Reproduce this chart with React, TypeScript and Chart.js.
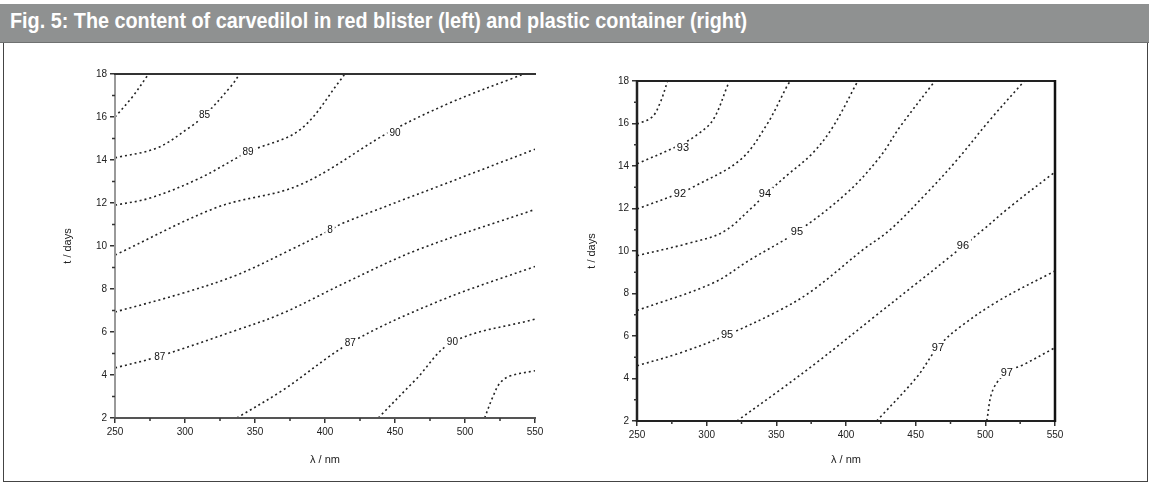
import React, { useEffect, useRef } from 'react';
import { Chart, registerables } from 'chart.js';

Chart.register(...registerables);

const TITLE = 'Fig. 5: The content of carvedilol in red blister (left) and plastic container (right)';
const X_TITLE = 'λ / nm';
const Y_TITLE = 't / days';
const X_TICKS = [250, 300, 350, 400, 450, 500, 550];
const Y_TICKS = [2, 4, 6, 8, 10, 12, 14, 16, 18];

type Pt = [number, number];
type Lbl = { text: string; x: number; y: number };

// Left panel (red blister) contour lines, [λ, t]
const L1: Pt[] = [[250, 16.0], [262, 16.9], [274, 18]];
const L2: Pt[] = [[250, 14.1], [280, 14.56], [303.6, 15.53], [314.3, 16.09], [333.6, 17.49], [339, 18]];
const L3: Pt[] = [[250, 11.9], [275, 12.23], [310.7, 13.16], [345, 14.37], [382, 15.4], [412, 17.8], [414, 18]];
const L4: Pt[] = [[250, 9.58], [323, 11.8], [382, 12.84], [446, 15.3], [489, 16.65], [534, 17.8], [542, 18]];
const L5: Pt[] = [[250, 6.93], [298.6, 7.81], [337, 8.65], [375, 9.81], [403.6, 10.74], [413, 11.07], [480, 12.75], [550, 14.5]];
const L6: Pt[] = [[250, 4.33], [280, 4.84], [337, 6.09], [370, 6.88], [415.7, 8.33], [465.7, 9.81], [550, 11.7]];
const L7: Pt[] = [[337, 2], [370, 3.3], [418, 5.49], [480, 7.4], [550, 9.05]];
const L8: Pt[] = [[438, 2], [465, 3.8], [491, 5.53], [550, 6.6]];
const L9: Pt[] = [[514, 2], [520, 3.0], [525, 3.63], [532, 3.95], [550, 4.2]];
const LEFT_LINES = [L1, L2, L3, L4, L5, L6, L7, L8, L9];
const LEFT_LABELS: Lbl[] = [
  { text: '85', x: 314, y: 16.1 },
  { text: '89', x: 345, y: 14.4 },
  { text: '90', x: 450, y: 15.26 },
  { text: '8', x: 403.6, y: 10.74 },
  { text: '87', x: 282, y: 4.84 },
  { text: '87', x: 418, y: 5.49 },
  { text: '90', x: 491, y: 5.53 },
];

// Right panel (plastic container) contour lines, [λ, t]
const R1: Pt[] = [[250, 15.97], [260.8, 16.3], [266.5, 16.96], [272, 18]];
const R2: Pt[] = [[250, 14.1], [280.8, 14.99], [293, 15.46], [304.5, 16.16], [314.6, 17.72], [316, 18]];
const R3: Pt[] = [[250, 11.98], [281, 12.73], [290, 13.0], [324, 14.28], [343, 15.93], [358, 17.8], [360, 18]];
const R4: Pt[] = [[250, 9.78], [288, 10.38], [311.7, 10.89], [333, 12.07], [341.8, 12.64], [358, 13.58], [376, 14.6], [390.6, 15.84], [408.5, 18]];
const R5: Pt[] = [[250, 7.2], [304.5, 8.49], [331, 9.58], [364.8, 10.9], [400.6, 12.73], [424.3, 14.42], [438.7, 15.84], [463.8, 18]];
const R6: Pt[] = [[250, 4.6], [280.8, 5.2], [314.6, 6.05], [352.6, 7.22], [376.3, 8.16], [412, 10.05], [431.5, 10.99], [458, 12.73], [479.6, 14.28], [503.2, 16.16], [528, 18]];
const R7: Pt[] = [[321.7, 2], [352.6, 3.46], [381.3, 4.87], [419.3, 6.85], [450.9, 8.49], [474.5, 9.72], [498.2, 10.99], [517.6, 12.07], [550, 13.72]];
const R8: Pt[] = [[422, 2], [450.9, 4.07], [466, 5.48], [481.7, 6.42], [510.4, 7.69], [550, 9.06]];
const R9: Pt[] = [[501, 2], [505.4, 3.46], [515.4, 4.3], [527, 4.64], [550, 5.45]];
const RIGHT_LINES = [R1, R2, R3, R4, R5, R6, R7, R8, R9];
const RIGHT_LABELS: Lbl[] = [
  { text: '93', x: 283, y: 14.85 },
  { text: '92', x: 280.8, y: 12.7 },
  { text: '94', x: 341.8, y: 12.7 },
  { text: '95', x: 364.8, y: 10.9 },
  { text: '95', x: 314.6, y: 6.05 },
  { text: '96', x: 483.9, y: 10.28 },
  { text: '97', x: 466, y: 5.48 },
  { text: '97', x: 515.4, y: 4.3 },
];

const FONT = '"Liberation Sans", Arial, sans-serif';

type Edge = { color: string; width: number } | null;
type PanelCfg = {
  lines: Pt[][];
  labels: Lbl[];
  labelSize: number;
  dash: number[];
  yAxisWidth: number;
  xAxisHeight: number;
  padTop: number;
  padRight: number;
  yTitlePad: number;
  frame: { top: Edge; right: Edge; bottom: Edge; left: Edge };
};

const decorPlugin = {
  id: 'decor',
  afterDatasetsDraw(chart: any, _args: any, o: any) {
    const { ctx, chartArea: a, scales } = chart;
    const xs = scales.x;
    const ys = scales.y;
    ctx.save();
    // contour labels
    ctx.font = `${o.labelSize}px ${FONT}`;
    ctx.textAlign = 'center';
    ctx.textBaseline = 'middle';
    for (const l of o.labels as Lbl[]) {
      const px = xs.getPixelForValue(l.x);
      const py = ys.getPixelForValue(l.y);
      const w = ctx.measureText(l.text).width;
      ctx.fillStyle = '#ffffff';
      ctx.fillRect(px - w / 2 - 2, py - 6, w + 4, 12);
      ctx.fillStyle = '#111111';
      ctx.fillText(l.text, px, py + 0.5);
    }
    // frame
    const f = o.frame;
    const seg = (e: Edge, x1: number, y1: number, x2: number, y2: number) => {
      if (!e) return;
      ctx.strokeStyle = e.color;
      ctx.lineWidth = e.width;
      ctx.setLineDash([]);
      ctx.beginPath();
      ctx.moveTo(x1, y1);
      ctx.lineTo(x2, y2);
      ctx.stroke();
    };
    seg(f.left, a.left, a.top - 1, a.left, a.bottom + 1);
    seg(f.bottom, a.left - 1, a.bottom, a.right + 1, a.bottom);
    seg(f.top, a.left - 1, a.top, a.right + 1, a.top);
    seg(f.right, a.right, a.top - 1, a.right, a.bottom + 1);
    // minor ticks
    ctx.strokeStyle = '#333333';
    ctx.lineWidth = 1.5;
    for (let i = 0; i < X_TICKS.length - 1; i++) {
      const px = xs.getPixelForValue((X_TICKS[i] + X_TICKS[i + 1]) / 2);
      ctx.beginPath();
      ctx.moveTo(px, a.bottom);
      ctx.lineTo(px, a.bottom + 3);
      ctx.stroke();
    }
    for (let i = 0; i < Y_TICKS.length - 1; i++) {
      const py = ys.getPixelForValue((Y_TICKS[i] + Y_TICKS[i + 1]) / 2);
      ctx.beginPath();
      ctx.moveTo(a.left - 3, py);
      ctx.lineTo(a.left, py);
      ctx.stroke();
    }
    ctx.restore();
  },
};

function Panel({ cfg, left, top, width, height }: { cfg: PanelCfg; left: number; top: number; width: number; height: number }) {
  const ref = useRef<HTMLCanvasElement | null>(null);
  useEffect(() => {
    if (!ref.current) return;
    const chart = new Chart(ref.current, {
      type: 'line',
      data: {
        datasets: cfg.lines.map((ln) => ({
          data: ln.map(([x, y]) => ({ x, y })),
          borderColor: '#222222',
          borderWidth: 1.6,
          borderDash: cfg.dash,
          pointRadius: 0,
          tension: 0.35,
          fill: false,
        })),
      },
      options: {
        animation: false,
        responsive: false,
        devicePixelRatio: 1,
        layout: { padding: { top: cfg.padTop, right: cfg.padRight, left: 0, bottom: 0 } },
        plugins: {
          legend: { display: false },
          tooltip: { enabled: false },
          decor: { labels: cfg.labels, labelSize: cfg.labelSize, frame: cfg.frame },
        } as any,
        scales: {
          x: {
            type: 'linear',
            min: X_TICKS[0],
            max: X_TICKS[X_TICKS.length - 1],
            afterBuildTicks: (s: any) => { s.ticks = X_TICKS.map((v) => ({ value: v })); },
            afterFit: (s: any) => { s.height = cfg.xAxisHeight; },
            border: { display: false },
            grid: { drawOnChartArea: false, drawTicks: true, tickLength: 5, color: '#333333', lineWidth: 1.5 },
            ticks: { color: '#222222', font: { family: FONT, size: 10 }, padding: 3, maxRotation: 0 },
            title: { display: true, text: X_TITLE, color: '#222222', font: { family: FONT, size: 11 }, padding: { top: 0, bottom: 3 } },
          },
          y: {
            type: 'linear',
            min: Y_TICKS[0],
            max: Y_TICKS[Y_TICKS.length - 1],
            afterBuildTicks: (s: any) => { s.ticks = Y_TICKS.map((v) => ({ value: v })); },
            afterFit: (s: any) => { s.width = cfg.yAxisWidth; },
            border: { display: false },
            grid: { drawOnChartArea: false, drawTicks: true, tickLength: 5, color: '#333333', lineWidth: 1.5 },
            ticks: { color: '#222222', font: { family: FONT, size: 10 }, padding: 3 },
            title: { display: true, text: Y_TITLE, color: '#222222', font: { family: FONT, size: 11 }, padding: { top: cfg.yTitlePad, bottom: 0 } },
          },
        },
      },
      plugins: [decorPlugin as any],
    });
    return () => chart.destroy();
  }, [cfg]);
  return (
    <canvas
      ref={ref}
      width={width}
      height={height}
      style={{ position: 'absolute', left, top, width, height }}
    />
  );
}

const LEFT_CFG: PanelCfg = {
  lines: LEFT_LINES,
  labels: LEFT_LABELS,
  labelSize: 10,
  dash: [2, 3],
  yAxisWidth: 65,
  xAxisHeight: 52,
  padTop: 14,
  padRight: 25,
  yTitlePad: 11,
  frame: {
    top: { color: '#333333', width: 2 },
    right: null,
    bottom: { color: '#555555', width: 2 },
    left: { color: '#999999', width: 2 },
  },
};

const RIGHT_CFG: PanelCfg = {
  lines: RIGHT_LINES,
  labels: RIGHT_LABELS,
  labelSize: 11,
  dash: [2, 3],
  yAxisWidth: 62,
  xAxisHeight: 49,
  padTop: 21,
  padRight: 35,
  yTitlePad: 10,
  frame: {
    top: { color: '#222222', width: 2 },
    right: { color: '#111111', width: 2.5 },
    bottom: { color: '#222222', width: 2 },
    left: { color: '#222222', width: 2.5 },
  },
};

export default function App() {
  return (
    <div style={{ position: 'absolute', left: 0, top: 0, width: 1149, height: 487, background: '#ffffff', overflow: 'hidden' }}>
      <div
        style={{
          position: 'absolute',
          left: 0,
          top: 4,
          width: 1149,
          height: 39,
          background: '#8f9191',
          borderBottom: '1px solid #6f7171',
          boxSizing: 'border-box',
        }}
      >
        <div
          style={{
            position: 'absolute',
            left: 10,
            top: 0,
            color: '#ffffff',
            fontFamily: '"Liberation Sans", Arial, sans-serif',
            fontWeight: 'bold',
            fontSize: 22,
            lineHeight: '33px',
            whiteSpace: 'nowrap',
            transform: 'scaleX(0.9)',
            transformOrigin: 'left center',
          }}
        >
          {TITLE}
        </div>
      </div>
      <div
        style={{
          position: 'absolute',
          left: 3,
          top: 43,
          width: 1145,
          height: 439,
          borderLeft: '1px solid #444',
          borderRight: '1px solid #444',
          borderBottom: '1px solid #444',
          boxSizing: 'border-box',
        }}
      />
      <Panel cfg={LEFT_CFG} left={50} top={60} width={510} height={410} />
      <Panel cfg={RIGHT_CFG} left={575} top={60} width={515} height={410} />
    </div>
  );
}
